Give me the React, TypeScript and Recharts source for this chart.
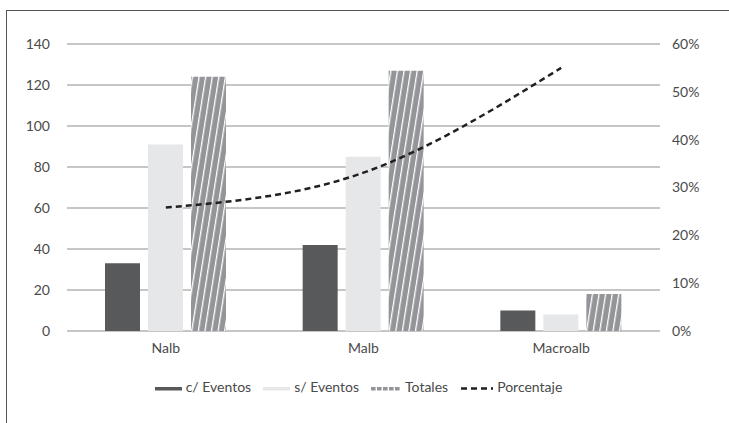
import {
  ComposedChart,
  Bar,
  Line,
  XAxis,
  YAxis,
  CartesianGrid,
} from 'recharts';

const categories = ['Nalb', 'Malb', 'Macroalb'];
const conEventos = [33, 42, 10];
const sinEventos = [91, 85, 8];
const totales = [124, 127, 18];
const porcentaje = [25.8, 33.1, 55];

const countTicks = [0, 20, 40, 60, 80, 100, 120, 140];
const pctTicks = [0, 10, 20, 30, 40, 50, 60];

const data = categories.map((name, i) => ({
  name,
  con: conEventos[i],
  sin: sinEventos[i],
  tot: totales[i],
  pct: porcentaje[i],
}));

const FONT = 'Lato, "Open Sans", sans-serif';
const TEXT = '#4a4a4a';
const DARK = '#58595b';
const LIGHT = '#e6e7e8';
const HATCH = '#939598';
const GRID = '#b3b3b3';

const tick = { fontSize: 14, fill: TEXT, fontFamily: FONT };

type Kind = 'dark' | 'light' | 'hatch' | 'dash';

function Swatch({ kind }: { kind: Kind }) {
  if (kind === 'dash') {
    return (
      <svg width={33} height={8} style={{ marginRight: 4 }}>
        <line x1={1} y1={5.5} x2={33} y2={5.5} stroke="#231f20" strokeWidth={2.5} strokeDasharray="6 4" />
      </svg>
    );
  }
  if (kind === 'hatch') {
    return (
      <svg width={30} height={8} style={{ marginRight: 4 }}>
        {[0, 1, 2, 3, 4].map((k) => (
          <rect key={k} x={k * 6} y={4} width={4.6} height={3.5} fill={HATCH} />
        ))}
      </svg>
    );
  }
  return (
    <svg width={27} height={8} style={{ marginRight: 4 }}>
      <rect x={0} y={4} width={27} height={3.5} fill={kind === 'dark' ? DARK : LIGHT} />
    </svg>
  );
}

const legendItems: { label: string; kind: Kind }[] = [
  { label: 'c/ Eventos', kind: 'dark' },
  { label: 's/ Eventos', kind: 'light' },
  { label: 'Totales', kind: 'hatch' },
  { label: 'Porcentaje', kind: 'dash' },
];

export default function App() {
  return (
    <div
      style={{
        position: 'fixed',
        left: 0,
        top: 0,
        width: 729,
        height: 423,
        background: '#fff',
        overflow: 'hidden',
      }}
    >
      {/* page frame, open to the right and bottom */}
      <div
        style={{
          position: 'absolute',
          left: 6,
          top: 10,
          width: 760,
          height: 440,
          borderTop: '1.5px solid #555',
          borderLeft: '1.5px solid #555',
        }}
      />
      <div style={{ position: 'absolute', left: 0, top: 0 }}>
        <ComposedChart
          width={729}
          height={423}
          data={data}
          margin={{ top: 44, right: 0, bottom: 62, left: 0 }}
          barGap={8}
          barSize={35}
        >
          <defs>
            <pattern
              id="hatchTotales"
              patternUnits="userSpaceOnUse"
              width={6.5}
              height={10}
              patternTransform="rotate(9)"
            >
              <rect x={0} y={0} width={6.5} height={10} fill={HATCH} />
              <rect x={0} y={0} width={1.3} height={10} fill="#fff" />
            </pattern>
          </defs>
          <CartesianGrid vertical={false} stroke={GRID} strokeWidth={1.3} yAxisId="left" />
          <XAxis
            dataKey="name"
            axisLine={false}
            tickLine={false}
            tickSize={0}
            tickMargin={12}
            height={30}
            tick={tick}
          />
          <YAxis
            yAxisId="left"
            domain={[0, 140]}
            ticks={countTicks}
            axisLine={false}
            tickLine={false}
            tickSize={0}
            tickMargin={17}
            width={67}
            tick={tick}
          />
          <YAxis
            yAxisId="right"
            orientation="right"
            domain={[0, 60]}
            ticks={pctTicks}
            axisLine={false}
            tickLine={false}
            tickSize={0}
            tickMargin={12}
            width={69}
            tick={tick}
            tickFormatter={(v: number) => `${v}%`}
          />
          <Bar yAxisId="left" dataKey="con" fill={DARK} isAnimationActive={false} />
          <Bar yAxisId="left" dataKey="sin" fill={LIGHT} isAnimationActive={false} />
          <Bar yAxisId="left" dataKey="tot" fill="url(#hatchTotales)" isAnimationActive={false} />
          <Line
            yAxisId="right"
            type="monotone"
            dataKey="pct"
            stroke="#231f20"
            strokeWidth={2.5}
            strokeDasharray="6 4"
            dot={false}
            activeDot={false}
            isAnimationActive={false}
          />
        </ComposedChart>
      </div>
      <div
        style={{
          position: 'absolute',
          left: 0,
          top: 378,
          width: 729,
          display: 'flex',
          justifyContent: 'center',
          alignItems: 'center',
          fontFamily: FONT,
          fontSize: 14,
          color: TEXT,
        }}
      >
        {legendItems.map((it) => (
          <div key={it.label} style={{ display: 'flex', alignItems: 'center', marginRight: 12 }}>
            <Swatch kind={it.kind} />
            <span>{it.label}</span>
          </div>
        ))}
      </div>
    </div>
  );
}
